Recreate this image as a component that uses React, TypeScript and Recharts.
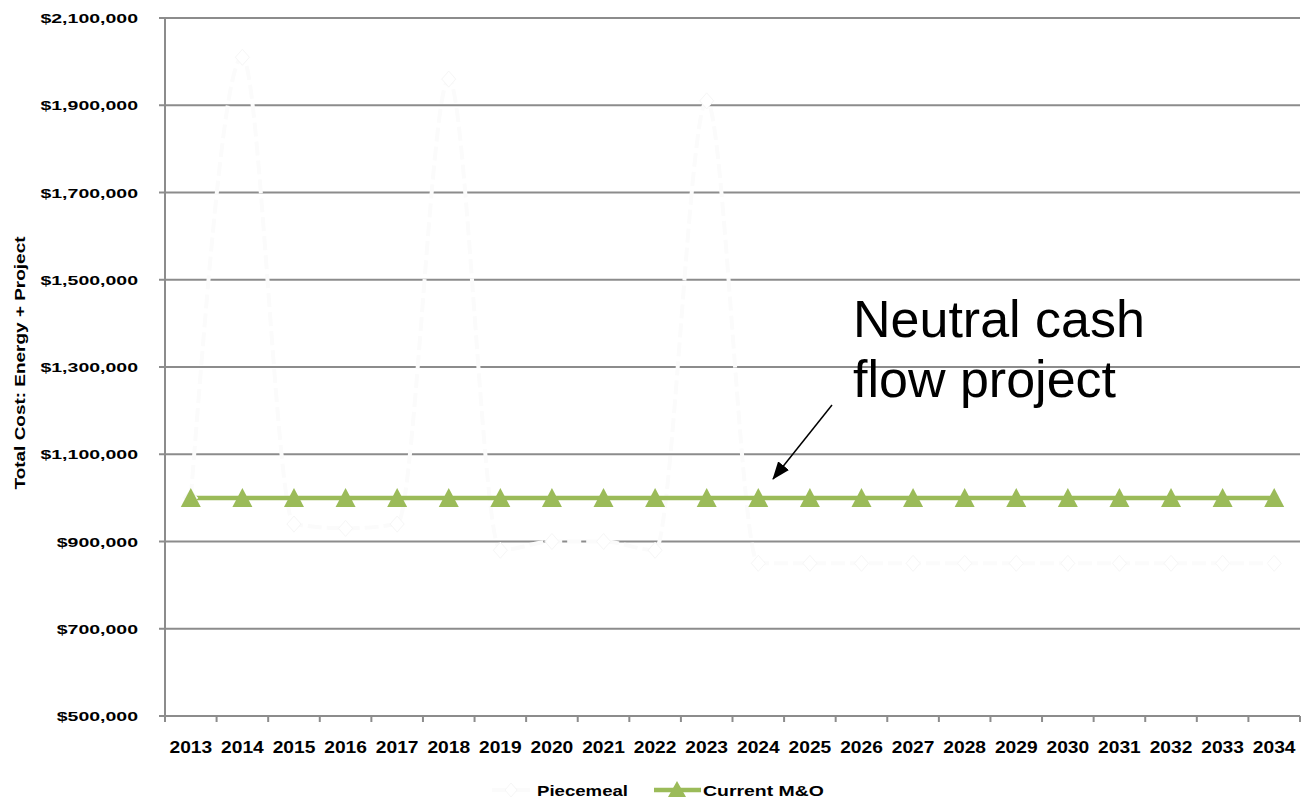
import React from "react";
import { LineChart, Line, XAxis, YAxis, CartesianGrid } from "recharts";

const years = [
  "2013", "2014", "2015", "2016", "2017", "2018", "2019", "2020", "2021", "2022", "2023",
  "2024", "2025", "2026", "2027", "2028", "2029", "2030", "2031", "2032", "2033", "2034",
];

// Piecemeal: big re-investment spikes, then lower running costs
const piecemeal = [
  1000000, 2010000, 940000, 930000, 940000, 1960000, 880000, 900000, 900000, 880000, 1910000,
  850000, 850000, 850000, 850000, 850000, 850000, 850000, 850000, 850000, 850000, 850000,
];

// Current M&O: flat spend
const currentMO = [
  1000000, 1000000, 1000000, 1000000, 1000000, 1000000, 1000000, 1000000, 1000000, 1000000, 1000000,
  1000000, 1000000, 1000000, 1000000, 1000000, 1000000, 1000000, 1000000, 1000000, 1000000, 1000000,
];

const yTicks = [500000, 700000, 900000, 1100000, 1300000, 1500000, 1700000, 1900000, 2100000];

const W = 1302;
const H = 804;
const LEFT = 165;
const RIGHT = 2;
const TOP = 18;
const BOTTOM = 88;
const HALF_BAND = (W - LEFT - RIGHT) / years.length / 2;

const GRID = "#8c8c8c";
const GREEN = "#9bbb59";
const FONT = "'Liberation Sans', Arial, sans-serif";

const data = years.map((year, i) => ({
  year,
  piecemeal: piecemeal[i],
  currentMO: currentMO[i],
}));

const money = (v: number) => `$${v.toLocaleString("en-US")}`;

const YTick = ({ x, y, payload }: any) => (
  <g transform={`translate(${x - 19},${y})`}>
    <text
      x={0}
      y={0}
      dy={5}
      textAnchor="end"
      transform="scale(1.5,1)"
      fontFamily={FONT}
      fontWeight="bold"
      fontSize={13}
      fill="#000"
    >
      {money(payload.value)}
    </text>
  </g>
);

const XTick = ({ x, y, payload, index }: any) => {
  const axisY = y - 8;
  return (
    <g>
      <line x1={x - HALF_BAND} x2={x - HALF_BAND} y1={axisY} y2={axisY + 6} stroke={GRID} strokeWidth={2} />
      {index === years.length - 1 && (
        <line x1={x + HALF_BAND} x2={x + HALF_BAND} y1={axisY} y2={axisY + 6} stroke={GRID} strokeWidth={2} />
      )}
      <g transform={`translate(${x},${axisY + 37})`}>
        <text
          x={0}
          y={0}
          textAnchor="middle"
          transform="scale(1.2,1)"
          fontFamily={FONT}
          fontWeight="bold"
          fontSize={16}
          fill="#000"
        >
          {payload.value}
        </text>
      </g>
    </g>
  );
};

const YTitle = ({ viewBox }: any) => {
  const cy = viewBox.y + viewBox.height / 2 - 4;
  return (
    <text
      x={0}
      y={0}
      transform={`translate(25,${cy}) rotate(-90)`}
      textAnchor="middle"
      fontFamily={FONT}
      fontWeight="bold"
      fontSize={14}
      textLength={253}
      lengthAdjust="spacingAndGlyphs"
      fill="#000"
    >
      Total Cost: Energy + Project
    </text>
  );
};

const Triangle = ({ cx, cy }: any) => (
  <polygon points={`${cx},${cy - 10} ${cx + 10},${cy + 9} ${cx - 10},${cy + 9}`} fill={GREEN} />
);

const Diamond = ({ cx, cy }: any) => (
  <polygon
    points={`${cx},${cy - 8} ${cx + 7},${cy} ${cx},${cy + 8} ${cx - 7},${cy}`}
    fill="#ffffff"
    stroke="#f6f6f6"
    strokeWidth={1}
  />
);

const LegendBox = () => (
  <svg width={W} height={30} style={{ position: "absolute", left: 0, top: 775 }}>
    <line x1={492} x2={530} y1={15} y2={15} stroke="#fbfbfb" strokeWidth={4} />
    <polygon points="511,8 517,15 511,22 505,15" fill="#fff" stroke="#f6f6f6" />
    <text x={537} y={21} fontFamily={FONT} fontWeight="bold" fontSize={15} textLength={91} lengthAdjust="spacingAndGlyphs">
      Piecemeal
    </text>
    <line x1={654} x2={701} y1={15} y2={15} stroke={GREEN} strokeWidth={4.5} />
    <polygon points="677,6 686,22 668,22" fill={GREEN} />
    <text x={703} y={21} fontFamily={FONT} fontWeight="bold" fontSize={15} textLength={121} lengthAdjust="spacingAndGlyphs">
      Current M&amp;O
    </text>
  </svg>
);

export default function App() {
  return (
    <div style={{ position: "relative", width: W, height: H, background: "#fff" }}>
      <style>{`body{margin:0}`}</style>
      <LineChart width={W} height={H} data={data} margin={{ top: TOP, right: RIGHT, left: 0, bottom: 0 }}>
        <CartesianGrid horizontal vertical={false} stroke={GRID} strokeWidth={2} />
        <XAxis
          dataKey="year"
          height={BOTTOM}
          interval={0}
          padding={{ left: HALF_BAND, right: HALF_BAND }}
          axisLine={{ stroke: GRID, strokeWidth: 2 }}
          tickLine={false}
          tick={<XTick />}
        />
        <YAxis
          width={LEFT}
          domain={[500000, 2100000]}
          ticks={yTicks}
          allowDataOverflow
          axisLine={{ stroke: GRID, strokeWidth: 2 }}
          tickLine={{ stroke: GRID, strokeWidth: 2 }}
          tickSize={6}
          tick={<YTick />}
          label={<YTitle />}
        />
        <Line
          type="monotone"
          dataKey="piecemeal"
          name="Piecemeal"
          stroke="#fbfbfb"
          strokeWidth={4}
          strokeDasharray="14 5"
          dot={<Diamond />}
          activeDot={false}
          isAnimationActive={false}
        />
        <Line
          type="linear"
          dataKey="currentMO"
          name="Current M&O"
          stroke={GREEN}
          strokeWidth={4.5}
          dot={<Triangle />}
          activeDot={false}
          isAnimationActive={false}
        />
      </LineChart>
      <LegendBox />
      <svg width={W} height={H} style={{ position: "absolute", left: 0, top: 0, pointerEvents: "none" }}>
        <defs>
          <marker id="arrowHeadBig" markerWidth="18" markerHeight="14" refX="17" refY="7" orient="auto" markerUnits="userSpaceOnUse">
            <path d="M0,0 L18,7 L0,14 z" fill="#000" />
          </marker>
        </defs>
        <line x1={832} y1={405} x2={773} y2={479} stroke="#000" strokeWidth={1.5} markerEnd="url(#arrowHeadBig)" />
        <text x={853} y={337} fontFamily={FONT} fontSize={52} fill="#000">
          Neutral cash
        </text>
        <text x={853} y={397} fontFamily={FONT} fontSize={52} fill="#000">
          flow project
        </text>
      </svg>
    </div>
  );
}
